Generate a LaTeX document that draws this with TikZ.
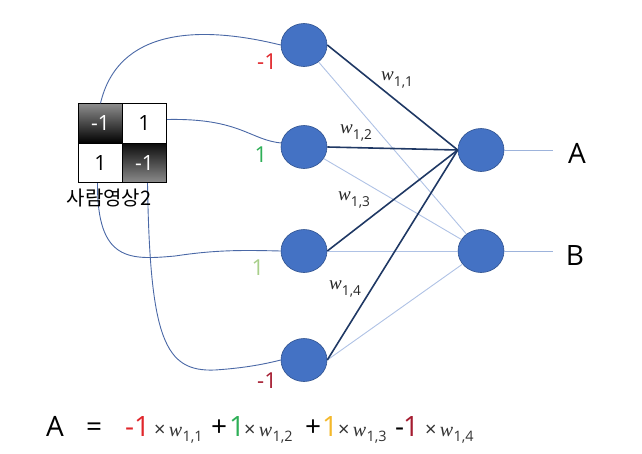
\documentclass[tikz,border=0pt]{standalone}
\usepackage{graphicx}
\usepackage{fontspec}
\setmainfont{Open Sans}
\newfontfamily\krfont{Noto Sans CJK KR}
\newfontfamily\wfont{Liberation Serif}
\usetikzlibrary{shapes.geometric}
\definecolor{NodeBlue}{HTML}{4472C4}
\definecolor{NodeEdge}{HTML}{2F528F}
\definecolor{WireDark}{HTML}{1F3864}
\definecolor{WireLight}{HTML}{AFC2E5}
\definecolor{WireMid}{HTML}{4A68A6}
\definecolor{OutLine}{HTML}{9DB3DB}
\definecolor{ValRed}{HTML}{E0262B}
\definecolor{ValGreen}{HTML}{2EAF57}
\definecolor{ValLime}{HTML}{A8CF8A}
\definecolor{ValDark}{HTML}{A51C30}
\definecolor{ValGold}{HTML}{F4B82A}
\newcommand{\wt}[1]{{\wfont\itshape w}\kern0.3pt\raisebox{-0.28em}{\scalebox{0.72}{#1}}}

\tikzset{
  neuron/.style={ellipse, fill=NodeBlue, draw=NodeEdge, line width=0.6pt,
    minimum width=46pt, minimum height=43pt, inner sep=0pt},
  cell/.style={draw=black, line width=0.8pt, minimum width=44.5pt,
    minimum height=39.5pt, inner sep=0pt, font=\fontsize{21}{22}\selectfont},
  strong/.style={WireDark, line width=1.6pt},
  weak/.style={WireLight, line width=0.9pt},
  inwire/.style={WireMid, line width=0.9pt},
  val/.style={inner sep=0pt, font=\fontsize{22}{24}\selectfont},
  wlabel/.style={inner sep=0pt, text=black!85, font=\fontsize{19}{20}\selectfont},
  eqpart/.style={anchor=base west, inner sep=0pt, font=\fontsize{28}{30}\selectfont},
  eqsmall/.style={anchor=base west, inner sep=0pt, text=black!80, font=\fontsize{20}{21}\selectfont},
}

\begin{document}
\begin{tikzpicture}[x=1pt, y=-1pt]
  \useasboundingbox (0,0) rectangle (642,453);

  % Hidden layer
  \node[neuron] (h1) at (304,45) {};
  \node[neuron] (h2) at (304,147) {};
  \node[neuron] (h3) at (304,251) {};
  \node[neuron] (h4) at (304,360) {};

  % Output layer
  \node[neuron] (oa) at (481,150) {};
  \node[neuron] (ob) at (481,251) {};

  % Image cells
  \node[cell, top color=black!45, bottom color=black, text=white] (c11) at (100.5,123.5) {-1};
  \node[cell, fill=white] (c12) at (144.5,123.5) {1};
  \node[cell, fill=white] (c21) at (100.5,163) {1};
  \node[cell, top color=black!95, bottom color=black!45, text=white] (c22) at (144.5,163) {-1};

  % Input wires
  \draw[inwire] (c11.north) .. controls (118,28) and (200,25) .. (h1.west);
  \draw[inwire] ([yshift=4pt]c12.east) .. controls (240,118) and (250,140) .. (h2.170);
  \draw[inwire] ([xshift=-3pt]c21.south) .. controls (97,262) and (130,260) .. (175,256)
    .. controls (215,250) and (240,250) .. (h3.west);
  \draw[inwire] ([xshift=3pt]c22.south) .. controls (150,340) and (165,372) .. (215,370)
    .. controls (245,368) and (265,364) .. (h4.west);

  \node[inner sep=0pt, font=\krfont\fontsize{20}{22}\selectfont] (cap) at (109,198) {사람영상2};

  % Weights
  \draw[weak] (h1) -- (ob);
  \draw[weak] (h2) -- (ob);
  \draw[weak] (h3) -- (ob);
  \draw[weak] (h4.east) -- (ob);
  \draw[strong] (h1.east) -- (oa.west);
  \draw[strong] (h2.east) -- (oa.west);
  \draw[strong] (h3.east) -- (oa.west);
  \draw[strong] (h4.east) -- (oa.west);

  % Outputs
  \coordinate (ea) at (553,150);
  \coordinate (eb) at (553,251);
  \draw[OutLine, line width=0.9pt] (oa.east) -- (ea);
  \draw[OutLine, line width=0.9pt] (ob.east) -- (eb);
  \node[inner sep=0pt, font=\fontsize{28}{30}\selectfont] (la) at (577,153) {A};
  \node[inner sep=0pt, font=\fontsize{28}{30}\selectfont] (lb) at (575,255) {B};

  % Input values
  \node[val, text=ValRed] (v1) at (267,62) {-1};
  \node[val, text=ValGreen] (v2) at (261,155) {1};
  \node[val, text=ValLime] (v3) at (258,268) {1};
  \node[val, text=ValDark] (v4) at (267,381) {-1};

  % Weight labels
  \node[wlabel] (w11) at (397,80) {\wt{1,1}};
  \node[wlabel] (w12) at (356,133) {\wt{1,2}};
  \node[wlabel] (w13) at (354,200) {\wt{1,3}};
  \node[wlabel] (w14) at (345,289) {\wt{1,4}};

  % Equation
  \node[eqpart] (eqA) at (46,436) {A};
  \node[eqpart] (eqEq) at (86,436) {=};
  \node[eqpart, text=ValRed] (eqN1) at (125,436) {-1};
  \node[eqsmall] (eqW1) at (154,436) {×\,\wt{1,1}};
  \node[eqpart] (eqP2) at (211,436) {+};
  \node[eqpart, text=ValGreen] (eqN2) at (229,436) {1};
  \node[eqsmall] (eqW2) at (244,436) {×\,\wt{1,2}};
  \node[eqpart] (eqP3) at (305,436) {+};
  \node[eqpart, text=ValGold] (eqN3) at (322,436) {1};
  \node[eqsmall] (eqW3) at (338,436) {×\,\wt{1,3}};
  \node[eqpart] (eqM4) at (395,436) {-};
  \node[eqpart, text=ValDark] (eqN4) at (403,436) {1};
  \node[eqsmall] (eqW4) at (425,436) {×\,\wt{1,4}};
\end{tikzpicture}
\end{document}
